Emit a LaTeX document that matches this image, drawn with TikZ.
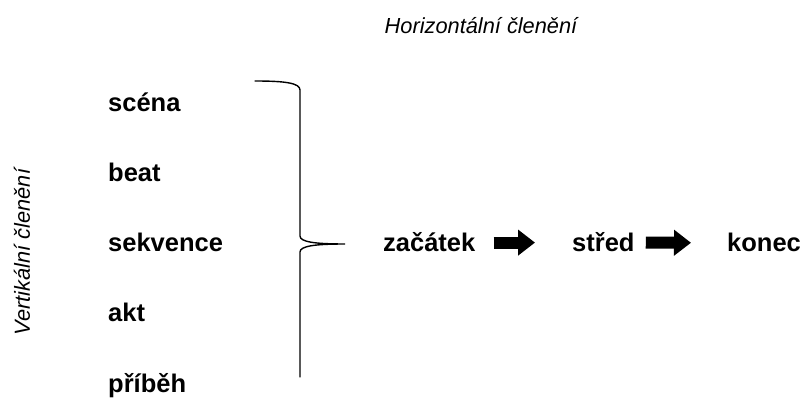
\documentclass[tikz,border=0pt]{standalone}
\usepackage{fontspec}
\setmainfont{Liberation Sans}
\usetikzlibrary{arrows.meta, positioning}

\begin{document}
\begin{tikzpicture}[
    x=1pt, y=-1pt,
    lvl/.style={inner sep=0pt, anchor=base west,
                font=\fontsize{25.5}{30}\selectfont\bfseries},
    axis/.style={inner sep=0pt, font=\fontsize{21.8}{26}\selectfont\itshape},
    brace/.style={line width=1.4pt, line cap=round},
    fatarrow/.style={line width=12pt,
                     -{Triangle[length=17pt, width=25pt]}}
  ]
  \useasboundingbox (0,0) rectangle (801,403);

  % Axis labels
  \node[axis, anchor=base] (horiz) at (481,34) {Horizontální členění};
  \node[axis, rotate=90] (vert) at (22,252) {Vertikální členění};

  % Vertical levels
  \foreach \w [count=\i from 0] in {scéna,beat,sekvence,akt,příběh} {
    \node[lvl] (lvl\i) at (108, 112+\i*70) {\w};
  }

  % Brace
  \coordinate (btop) at (255,81);
  \coordinate (tip) at (345,244);
  \coordinate (bbot) at (300,377);
  \draw[brace] (btop) .. controls (285,81) and (300,83) .. (300,90)
    -- (300,236) .. controls (300,242) and (315,244) .. (tip)
    .. controls (315,244) and (300,246) .. (300,252) -- (bbot);

  % Horizontal row
  \node[lvl] (zac) at (383,252) {začátek};
  \node[lvl] (str) at (572,252) {střed};
  \node[lvl] (kon) at (727,252) {konec};

  \draw[fatarrow, shorten <=18pt, shorten >=37pt] (zac.east) -- (str.west);
  \draw[fatarrow, shorten <=11pt, shorten >=36pt] (str.east) -- (kon.west);
\end{tikzpicture}
\end{document}
